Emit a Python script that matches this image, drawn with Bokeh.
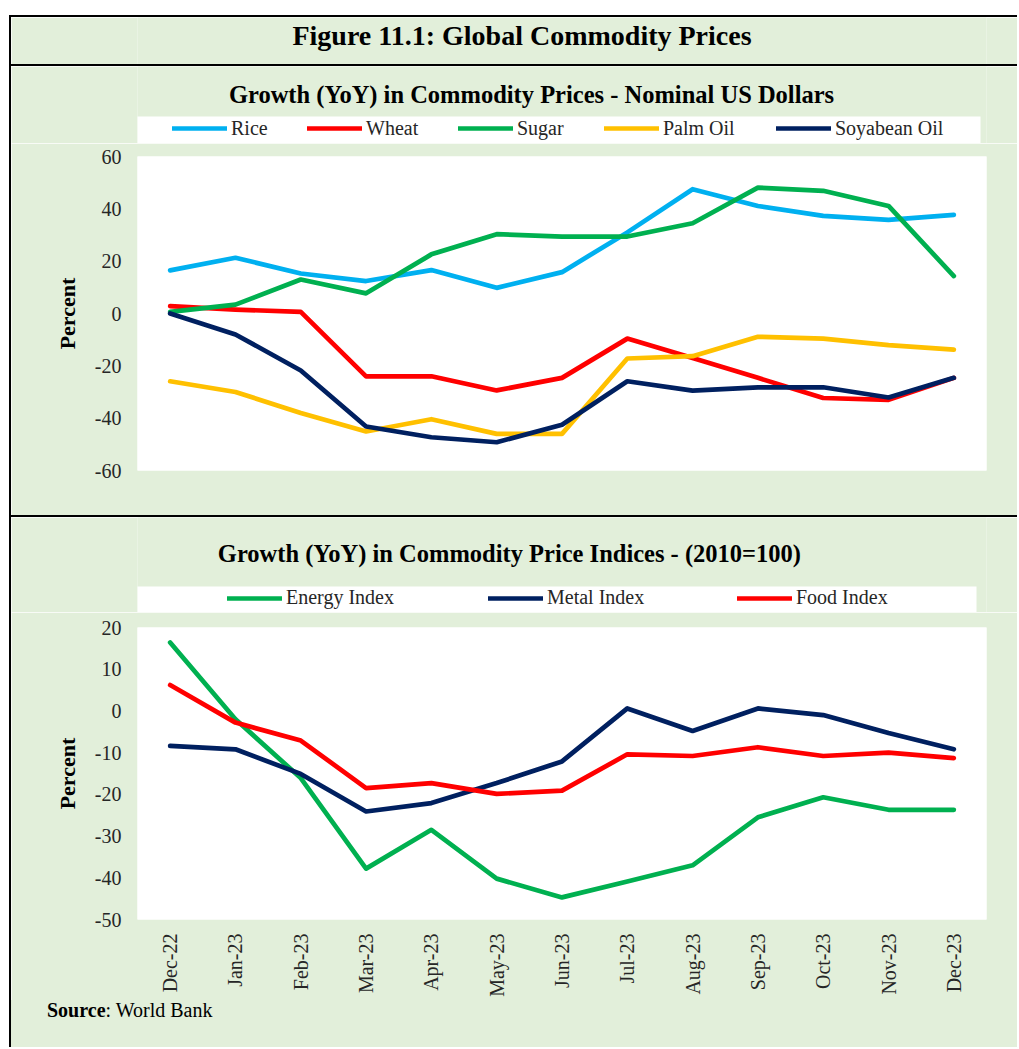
import math
from bokeh.plotting import figure
from bokeh.models import Legend, LegendItem, Label, BoxAnnotation, FixedTicker, FactorRange, Range1d, Div
from bokeh.layouts import column, row
from bokeh.embed import file_html
from bokeh.resources import INLINE

months = ["Dec-22", "Jan-23", "Feb-23", "Mar-23", "Apr-23", "May-23", "Jun-23",
          "Jul-23", "Aug-23", "Sep-23", "Oct-23", "Nov-23", "Dec-23"]

rice = [16.5, 21.3, 15.3, 12.4, 16.6, 9.8, 15.8, 31.0, 47.5, 41.1, 37.3, 35.8, 37.7]
wheat = [2.8, 1.5, 0.6, -24.0, -24.0, -29.4, -24.6, -9.6, -17.0, -24.6, -32.3, -33.0, -24.6]
sugar = [0.6, 3.4, 13.0, 7.7, 22.6, 30.3, 29.4, 29.4, 34.5, 48.1, 46.9, 41.1, 14.3]
palm_oil = [-25.9, -30.0, -38.0, -45.1, -40.4, -46.0, -46.0, -17.2, -16.3, -8.9, -9.6, -12.1, -13.8]
soyabean_oil = [0.0, -8.0, -21.8, -43.2, -47.3, -49.2, -42.5, -25.9, -29.5, -28.2, -28.2, -32.1, -24.6]

energy_index = [16.4, -2.0, -16.1, -37.8, -28.5, -40.2, -44.7, -40.9, -37.0, -25.5, -20.7, -23.7, -23.7]
metal_index = [-8.4, -9.2, -15.1, -24.1, -22.1, -17.3, -12.1, 0.6, -4.8, 0.6, -1.0, -5.3, -9.2]
food_index = [6.2, -2.8, -7.1, -18.5, -17.3, -19.9, -19.1, -10.4, -10.8, -8.7, -10.8, -10.0, -11.3]

top_names = ["Rice", "Wheat", "Sugar", "Palm Oil", "Soyabean Oil"]
top_series = [rice, wheat, sugar, palm_oil, soyabean_oil]
top_colors = ["#00B0F0", "#FF0000", "#00B050", "#FFC000", "#002060"]

bottom_names = ["Energy Index", "Metal Index", "Food Index"]
bottom_series = [energy_index, metal_index, food_index]
bottom_colors = ["#00B050", "#002060", "#FF0000"]

ticks_top = [-60, -40, -20, 0, 20, 40, 60]
ticks_bottom = [-50, -40, -30, -20, -10, 0, 10, 20]

GREEN_BG = "#E2EFDA"
TXT = "#262626"
FONT = "Liberation Serif"
CW = 1006          # content width (right of the left border)
BL = 126           # left border of every figure (frames are aligned in a column)
BR = 31            # right border of every figure
LW = 4.7


def bar(w, h, color):
    return Div(text="", width=w, height=h, margin=0, styles={"background-color": color})


def text_panel(h):
    # data x = pixel offset from the panel's left edge, data y = pixels up from bottom
    p = figure(width=CW, height=h, x_range=Range1d(BL, CW - BR), y_range=Range1d(0, h),
               x_axis_location=None, y_axis_location=None,
               output_backend="svg", toolbar_location=None,
               min_border_left=BL, min_border_right=BR, min_border_top=0, min_border_bottom=0,
               background_fill_color=GREEN_BG, border_fill_color=GREEN_BG, outline_line_color=None)
    p.grid.visible = False
    return p


def label(p, x, y, text, size, bold=False, align="center"):
    p.add_layout(Label(x=x, y=y, text=text, text_align=align, text_baseline="middle",
                       text_font=FONT, text_font_size=size,
                       text_font_style="bold" if bold else "normal", text_color="black"))


def legend_panel(h, subtitle, sx, sy, box_l, box_r, box_h, names, series, colors, xs, ly):
    p = text_panel(h)
    label(p, sx, sy, subtitle, "24.5px", bold=True)
    p.add_layout(BoxAnnotation(left=box_l, right=box_r, bottom=0, top=box_h,
                               fill_color="white", fill_alpha=1.0, line_color=None))
    for name, ys, color, x in zip(names, series, colors, xs):
        # hidden proxy of the series: only supplies the legend sample line
        r = p.line(x=list(range(len(ys))), y=ys, line_color=color, line_width=LW,
                   line_cap="round", visible=False)
        p.add_layout(Legend(items=[LegendItem(label=name, renderers=[r])], location=(x, ly),
                            orientation="horizontal", background_fill_alpha=0, border_line_alpha=0,
                            padding=0, margin=0, glyph_width=55, glyph_height=20, label_height=20,
                            label_standoff=4, label_text_font=FONT, label_text_font_size="20px",
                            label_text_color=TXT, click_policy="none",
                            inactive_fill_alpha=0))
    return p


def chart(height, mbt, mbb, yr, ticks):
    p = figure(x_range=FactorRange(*months), y_range=Range1d(*yr), width=CW, height=height,
               output_backend="svg", toolbar_location=None,
               min_border_left=BL, min_border_right=BR, min_border_top=mbt, min_border_bottom=mbb,
               background_fill_color="white", border_fill_color=GREEN_BG, outline_line_color=None)
    p.xgrid.visible = False
    p.ygrid.visible = False
    p.yaxis.ticker = FixedTicker(ticks=ticks)
    p.yaxis.major_label_overrides = {t: str(t) for t in ticks}
    p.yaxis.axis_line_color = None
    p.yaxis.major_tick_line_color = None
    p.yaxis.minor_tick_line_color = None
    p.yaxis.major_tick_out = 0
    p.yaxis.major_tick_in = 0
    p.yaxis.major_label_standoff = 16
    p.yaxis.major_label_text_font = FONT
    p.yaxis.major_label_text_font_size = "20px"
    p.yaxis.major_label_text_color = TXT
    p.yaxis.axis_label = "Percent"
    p.yaxis.axis_label_text_font = FONT
    p.yaxis.axis_label_text_font_size = "22px"
    p.yaxis.axis_label_text_font_style = "bold"
    p.yaxis.axis_label_text_color = "black"
    p.yaxis.axis_label_standoff = 12
    return p


# ---- main title ----
title_p = text_panel(47)
label(title_p, 510.5, 29, "Figure 11.1: Global Commodity Prices", "28px", bold=True)

# ---- top panel ----
head1 = legend_panel(77, "Growth (YoY) in Commodity Prices - Nominal US Dollars", 520, 49.5,
                     119, 969, 27, top_names, top_series, top_colors, [35, 170, 321, 467, 639], 3.5)
p1 = chart(372, 13, 45, (-60, 60), ticks_top)
p1.xaxis.visible = False
for ys, c in zip(top_series, top_colors):
    p1.line(months, ys, line_color=c, line_width=LW, line_cap="round", line_join="round")

# ---- bottom panel ----
head2 = legend_panel(95, "Growth (YoY) in Commodity Price Indices -   (2010=100)", 504, 59.5,
                     125, 965, 26, bottom_names, bottom_series, bottom_colors, [90, 351, 600], 3)
p2 = chart(388, 15, 81, (-50, 20), ticks_bottom)
p2.xaxis.axis_line_color = None
p2.xaxis.major_tick_line_color = None
p2.xaxis.minor_tick_line_color = None
p2.xaxis.major_tick_out = 0
p2.xaxis.major_tick_in = 0
p2.xaxis.major_label_orientation = math.pi / 2
p2.xaxis.major_label_standoff = 14
p2.xaxis.major_label_text_font = FONT
p2.xaxis.major_label_text_font_size = "20px"
p2.xaxis.major_label_text_color = TXT
for ys, c in zip(bottom_series, bottom_colors):
    p2.line(months, ys, line_color=c, line_width=LW, line_cap="round", line_join="round")

# ---- source ----
src = Div(text='<div style="font-family:\'Liberation Serif\';font-size:20px;line-height:20px;'
               'padding-left:36px;color:black;white-space:nowrap;"><b>Source</b>: World Bank</div>',
          width=CW, height=47, margin=0, styles={"background-color": GREEN_BG})

inner = column(bar(CW, 2, "black"), title_p, bar(CW, 2, "black"), head1, p1,
               bar(CW, 2, "black"), head2, p2, src, spacing=0, margin=0)
inner_h = 2 + 47 + 2 + 77 + 372 + 2 + 95 + 388 + 47
page = column(bar(9 + 2 + CW, 15, "white"),
              row(bar(9, inner_h, "white"), bar(2, inner_h, "black"), inner, spacing=0, margin=0),
              spacing=0, margin=0)

open("out.html", "w").write(file_html(page, INLINE))
